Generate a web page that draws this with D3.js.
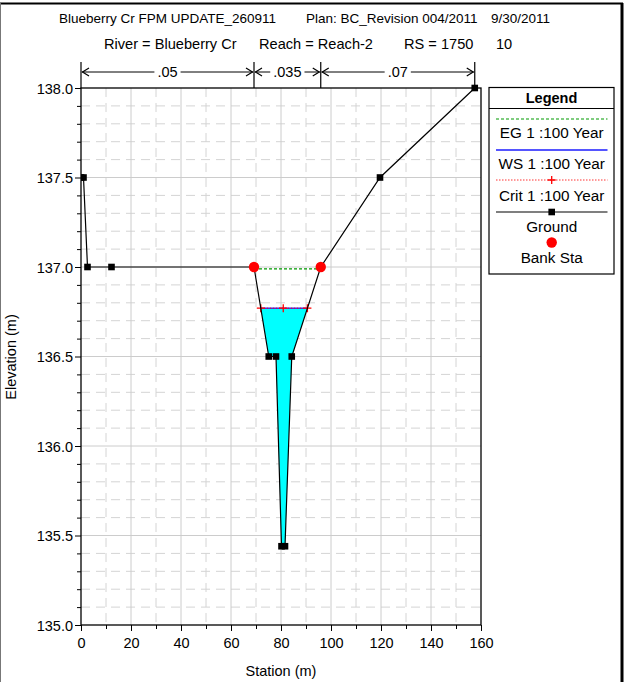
<!DOCTYPE html>
<html><head><meta charset="utf-8">
<script src="https://cdn.jsdelivr.net/npm/d3@7"></script>
<style>body{margin:0;background:#fff}svg{display:block;font-family:"Liberation Sans",Arial,sans-serif}</style>
</head><body>
<svg id="c" width="626" height="682"></svg>
<script>
// ---- data ----
const groundStation = [0, 1, 2.6, 12.2, 69.2, 75.1, 78, 80.2, 81.6, 84.3, 95.9, 119.6, 157.5];
const groundElev    = [137.5, 137.5, 137.0, 137.0, 137.0, 136.5, 136.5, 135.44, 135.44, 136.5, 137.0, 137.5, 138.0];
const bankStation = [69.2, 95.9];
const bankElev = [137.0, 137.0];
const wsElev = 136.77;
const egElev = 136.99;
const critElev = 136.77;
const nValues = [".05", ".035", ".07"];
const nBreaks = [0, 69.2, 95.9, 157.5];
const xTicks = [0, 20, 40, 60, 80, 100, 120, 140, 160];
const yTicks = [135.0, 135.5, 136.0, 136.5, 137.0, 137.5, 138.0];
const legendLabels = ["EG 1 :100 Year", "WS 1 :100 Year", "Crit 1 :100 Year", "Ground", "Bank Sta"];
const titleLine1 = ["Blueberry Cr FPM UPDATE_260911", "Plan: BC_Revision 004/2011", "9/30/2011"];
const titleLine2 = ["River = Blueberry Cr", "Reach = Reach-2", "RS = 1750", "10"];

const svg = d3.select("#c");
const x = d3.scaleLinear().domain([0, 160]).range([81, 481]);
const y = d3.scaleLinear().domain([135, 138]).range([625, 88]);
const ground = groundStation.map((s, i) => [s, groundElev[i]]);

// outer frame
svg.append("line").attr("x1", 0).attr("x2", 623).attr("y1", 3.5).attr("y2", 3.5).attr("stroke", "#000").attr("stroke-width", 2);
svg.append("line").attr("x1", 622).attr("x2", 622).attr("y1", 3).attr("y2", 682).attr("stroke", "#000").attr("stroke-width", 3);
svg.append("line").attr("x1", 0.5).attr("x2", 0.5).attr("y1", 3).attr("y2", 682).attr("stroke", "#777").attr("stroke-width", 1);

// titles
const t1x = [59, 306, 491];
titleLine1.forEach((t, i) => svg.append("text").attr("x", t1x[i]).attr("y", 23).attr("font-size", 13.5).text(t));
const t2x = [104, 259, 404, 496];
titleLine2.forEach((t, i) => svg.append("text").attr("x", t2x[i]).attr("y", 48.5).attr("font-size", 14.6).text(t));

// grid
const g = svg.append("g");
const minorX = d3.range(10, 160, 20);
const majorX = d3.range(20, 160, 20);
const minorY = d3.range(135.1, 138, 0.1).filter(v => Math.abs((v * 10) % 5) > 0.01 && Math.abs((v*10)%5 - 5) > 0.01);
const majorY = [135.5, 136.0, 136.5, 137.0, 137.5];
g.selectAll(".mx").data(minorX).join("line").attr("x1", d => x(d)).attr("x2", d => x(d)).attr("y1", y(138)).attr("y2", y(135))
  .attr("stroke", "#d4d4d4").attr("stroke-dasharray", "9,6");
g.selectAll(".my").data(minorY).join("line").attr("x1", x(0)).attr("x2", x(160)).attr("y1", d => y(d)).attr("y2", d => y(d))
  .attr("stroke", "#d4d4d4").attr("stroke-dasharray", "9,6");
g.selectAll(".Mx").data(majorX).join("line").attr("x1", d => x(d)).attr("x2", d => x(d)).attr("y1", y(138)).attr("y2", y(135))
  .attr("stroke", "#cccccc");
g.selectAll(".My").data(majorY).join("line").attr("x1", x(0)).attr("x2", x(160)).attr("y1", d => y(d)).attr("y2", d => y(d))
  .attr("stroke", "#cccccc");

// intersections of ground with a level inside the channel
function crossings(level) {
  const res = [];
  for (let i = 4; i < ground.length - 2; i++) {
    const [s0, e0] = ground[i], [s1, e1] = ground[i + 1];
    if ((e0 - level) * (e1 - level) < 0 || (e0 === level && i > 4)) {
      const t = (level - e0) / (e1 - e0);
      res.push(s0 + t * (s1 - s0));
    }
  }
  return [d3.min(res), d3.max(res)];
}
const [wl, wr] = crossings(wsElev);

// water fill
const poly = [[wl, wsElev]];
ground.forEach(p => { if (p[0] > wl && p[0] < wr && p[1] < wsElev) poly.push(p); });
poly.push([wr, wsElev]);
svg.append("path").attr("d", d3.line().x(d => x(d[0])).y(d => y(d[1]))(poly) + "Z").attr("fill", "#00ffff");

svg.append("clipPath").attr("id", "pc").append("rect").attr("x", x(0)).attr("y", y(138) - 4).attr("width", x(160) - x(0) + 4).attr("height", y(135) - y(138) + 4);

// EG
const [el, er] = [bankStation[0], bankStation[1]];
svg.append("line").attr("x1", x(el)).attr("x2", x(er)).attr("y1", y(egElev)).attr("y2", y(egElev))
  .attr("stroke", "#009900").attr("stroke-width", 1.2).attr("stroke-dasharray", "3,2");
// WS
svg.append("line").attr("x1", x(wl)).attr("x2", x(wr)).attr("y1", y(wsElev)).attr("y2", y(wsElev))
  .attr("stroke", "#3333ff").attr("stroke-width", 1.5);
// Crit
const [cl, cr] = crossings(critElev);
svg.append("line").attr("x1", x(cl)).attr("x2", x(cr)).attr("y1", y(critElev)).attr("y2", y(critElev))
  .attr("stroke", "#ff0000").attr("stroke-width", 1).attr("stroke-dasharray", "1.5,1.5");
const critMid = (groundStation[7] + groundStation[8]) / 2;
function plus(sel, cx, cy, c) {
  sel.append("path").attr("d", `M${cx - 4},${cy}H${cx + 4}M${cx},${cy - 4}V${cy + 4}`).attr("stroke", c).attr("stroke-width", 1.3);
}
[cl, critMid, cr].forEach(s => plus(svg, x(s), y(critElev), "#ff0000"));

// ground
const gg = svg.append("g").attr("clip-path", "url(#pc)");
gg.append("path").attr("d", d3.line().x(d => x(d[0])).y(d => y(d[1]))(ground)).attr("fill", "none").attr("stroke", "#000").attr("stroke-width", 1.2);
gg.selectAll(".sq").data(ground).join("rect").attr("x", d => x(d[0]) - 3.3).attr("y", d => y(d[1]) - 3.3).attr("width", 6.6).attr("height", 6.6).attr("fill", "#000");
// bank stations
svg.selectAll(".bk").data(bankStation).join("circle").attr("cx", d => x(d)).attr("cy", (d, i) => y(bankElev[i])).attr("r", 5.2).attr("fill", "#ff0000");

// plot frame
svg.append("rect").attr("x", x(0)).attr("y", y(138)).attr("width", x(160) - x(0)).attr("height", y(135) - y(138)).attr("fill", "none").attr("stroke", "#000").attr("stroke-width", 1.3);

// axes ticks
const ax = svg.append("g").attr("transform", `translate(0,${y(135)})`)
  .call(d3.axisBottom(x).tickValues(xTicks).tickSize(6).tickFormat(d3.format("d")));
ax.select(".domain").remove();
ax.selectAll("text").attr("font-size", 14.5).attr("font-family", "Liberation Sans, Arial").attr("fill", "#000").attr("dy", "0.95em");
svg.append("g").attr("transform", `translate(0,${y(135)})`)
  .call(d3.axisBottom(x).tickValues(minorX).tickSize(4).tickFormat("")).select(".domain").remove();
const ay = svg.append("g").attr("transform", `translate(${x(0)},0)`)
  .call(d3.axisLeft(y).tickValues(yTicks).tickSize(6).tickFormat(d3.format(".1f")));
ay.select(".domain").remove();
ay.selectAll("text").attr("font-size", 14.5).attr("font-family", "Liberation Sans, Arial").attr("fill", "#000").attr("x", -8).attr("dy", "0.35em");
svg.append("g").attr("transform", `translate(${x(0)},0)`)
  .call(d3.axisLeft(y).tickValues(minorY).tickSize(4).tickFormat("")).select(".domain").remove();

svg.append("text").attr("x", 281).attr("y", 676).attr("text-anchor", "middle").attr("font-size", 14.5).text("Station (m)");
svg.append("text").attr("transform", "translate(16,357) rotate(-90)").attr("text-anchor", "middle").attr("font-size", 14.5).text("Elevation (m)");

// n values
const ny = 72;
nBreaks.forEach(b => svg.append("line").attr("x1", x(b)).attr("x2", x(b)).attr("y1", 62).attr("y2", y(138)).attr("stroke", "#000").attr("stroke-width", 1.2));
nValues.forEach((v, i) => {
  const a = x(nBreaks[i]), b = x(nBreaks[i + 1]), m = (a + b) / 2;
  const t = svg.append("text").attr("x", m).attr("y", ny + 5).attr("text-anchor", "middle").attr("font-size", 14.5).text(v);
  const w = t.node().getComputedTextLength();
  svg.append("line").attr("x1", a + 1).attr("x2", m - w / 2 - 3).attr("y1", ny).attr("y2", ny).attr("stroke", "#000");
  svg.append("line").attr("x1", m + w / 2 + 3).attr("x2", b - 1).attr("y1", ny).attr("y2", ny).attr("stroke", "#000");
  svg.append("path").attr("d", `M${a + 8},${ny - 4}L${a + 1.5},${ny}L${a + 8},${ny + 4}`).attr("fill", "none").attr("stroke", "#000").attr("stroke-width", 1.2);
  svg.append("path").attr("d", `M${b - 8},${ny - 4}L${b - 1.5},${ny}L${b - 8},${ny + 4}`).attr("fill", "none").attr("stroke", "#000").attr("stroke-width", 1.2);
});

// legend
const L = svg.append("g");
L.append("rect").attr("x", 489).attr("y", 87.5).attr("width", 125).attr("height", 186.5).attr("fill", "#fff").attr("stroke", "#000").attr("stroke-width", 1.2);
L.append("line").attr("x1", 489).attr("x2", 614).attr("y1", 108.5).attr("y2", 108.5).attr("stroke", "#000").attr("stroke-width", 1.2);
L.append("text").attr("x", 551.5).attr("y", 102.5).attr("text-anchor", "middle").attr("font-weight", "bold").attr("font-size", 14.5).text("Legend");
const lx1 = 496, lx2 = 607.5, lc = 551.7;
L.append("line").attr("x1", lx1).attr("x2", lx2).attr("y1", 119).attr("y2", 119).attr("stroke", "#009900").attr("stroke-width", 1.2).attr("stroke-dasharray", "3,2");
L.append("line").attr("x1", lx1).attr("x2", lx2).attr("y1", 150).attr("y2", 150).attr("stroke", "#5555ff").attr("stroke-width", 2);
L.append("line").attr("x1", lx1).attr("x2", lx2).attr("y1", 180).attr("y2", 180).attr("stroke", "#ff3333").attr("stroke-width", 1).attr("stroke-dasharray", "1.5,1.5");
plus(L, lc, 180, "#ff0000");
L.append("line").attr("x1", lx1).attr("x2", lx2).attr("y1", 212).attr("y2", 212).attr("stroke", "#000").attr("stroke-width", 1.2);
L.append("rect").attr("x", lc - 3.3).attr("y", 212 - 3.3).attr("width", 6.6).attr("height", 6.6).attr("fill", "#000");
L.append("circle").attr("cx", lc).attr("cy", 242.5).attr("r", 5.2).attr("fill", "#ff0000");
const ly = [132.5, 163.5, 195, 226, 257];
legendLabels.forEach((t, i) => L.append("text").attr("x", lc).attr("y", ly[i] + 5.5).attr("text-anchor", "middle").attr("font-size", 15.3).text(t));
</script>
</body></html>
